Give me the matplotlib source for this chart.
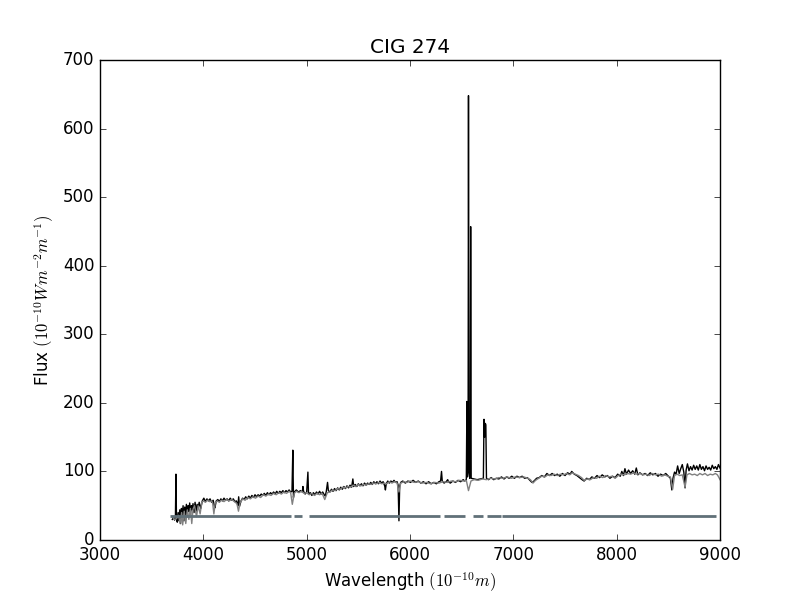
import numpy as np
import matplotlib
matplotlib.use("Agg")
import matplotlib.pyplot as plt

# observed spectrum (black)
obs_wl = [3700, 3712, 3722, 3730, 3735, 3740, 3748, 3756, 3764, 3772, 3780, 3788, 3796,
          3804, 3812, 3820, 3828, 3836, 3844, 3852, 3860, 3868, 3876, 3884, 3892, 3900,
          3910, 3920, 3930, 3940, 3950,
          3960, 3975, 3990, 4005, 4020, 4035, 4050, 4065, 4080, 4095, 4106, 4112, 4125,
          4140, 4155, 4170, 4185, 4200, 4215, 4230, 4245, 4260, 4275, 4290, 4305, 4320,
          4335, 4342, 4350, 4365, 4380, 4395, 4410, 4425, 4440, 4455, 4470, 4485, 4500,
          4515, 4530, 4545, 4560, 4575, 4590, 4605, 4620, 4635, 4650, 4665, 4680, 4695,
          4710, 4725, 4740, 4755, 4770, 4785, 4800, 4815, 4830, 4845, 4858, 4866, 4872,
          4880,
          4900, 4920, 4940, 4958, 4964, 4970, 4985, 5000, 5012, 5018, 5035, 5050, 5065,
          5080, 5095, 5110, 5125, 5140, 5155, 5170, 5180, 5190, 5202, 5210, 5225, 5240,
          5255, 5270, 5285, 5300, 5315, 5330, 5345, 5360, 5375, 5390, 5405, 5420, 5435,
          5447, 5455, 5470, 5485, 5500, 5515, 5530, 5545, 5560, 5575, 5590, 5605, 5620,
          5635, 5650, 5665, 5680, 5695, 5710, 5725, 5740, 5755, 5762, 5770, 5785, 5800,
          5815, 5830, 5845, 5860, 5875, 5885, 5893, 5900, 5910,
          5930, 5955, 5980, 6005, 6030, 6055, 6080, 6105, 6130, 6155, 6180, 6205, 6230,
          6255, 6280, 6296, 6305, 6312, 6330, 6350, 6365, 6372, 6390, 6415, 6440, 6465,
          6490, 6515, 6530, 6545,
          6551, 6556, 6562, 6566, 6571, 6578, 6583, 6587, 6592, 6620, 6650, 6680, 6710,
          6716, 6722, 6729, 6734,
          6740, 6760, 6785, 6810, 6835, 6860, 6885, 6910, 6935, 6960, 6985, 7010, 7035,
          7060, 7085, 7110, 7135, 7160, 7180, 7200, 7225, 7250, 7275, 7300, 7325, 7350,
          7375, 7400, 7425, 7450, 7475, 7500, 7525, 7550, 7565, 7590, 7615, 7640, 7665,
          7685, 7710, 7735, 7760, 7785, 7810, 7835, 7860, 7885, 7910, 7935, 7960, 7985,
          8010, 8035, 8050, 8065, 8080, 8095, 8115, 8135, 8155, 8175, 8190, 8205, 8225,
          8250, 8275, 8300, 8325, 8350, 8375, 8400, 8425, 8450, 8475, 8500, 8520, 8534,
          8545, 8560, 8575, 8590, 8605, 8620, 8635, 8650, 8662, 8672, 8685, 8700, 8715,
          8730, 8745, 8760, 8775, 8790, 8805, 8820, 8835, 8850, 8865, 8880, 8895, 8910,
          8925, 8940, 8955, 8970, 8985, 9000]
obs_flux = [30, 33, 29, 34, 96, 32, 26, 40, 28, 44, 24, 46, 32,
            50, 28, 48, 36, 52, 34, 50, 42, 54, 38, 50, 44, 53,
            40, 55, 42, 52, 47,
            55, 46, 57, 61, 56, 60, 57, 60, 55, 58, 50, 47, 57,
            59, 56, 60, 57, 61, 58, 60, 57, 61, 58, 60, 56, 57,
            50, 63, 49, 57, 61, 59, 63, 60, 64, 61, 65, 62, 66,
            63, 66, 64, 67, 65, 68, 65, 69, 66, 69, 67, 70, 67,
            71, 68, 71, 69, 72, 69, 72, 70, 73, 70, 71, 131, 62,
            70,
            73, 70, 72, 70, 78, 71, 67, 70, 99, 67, 69, 65, 69,
            66, 70, 67, 71, 67, 70, 66, 64, 71, 84, 72, 70, 74,
            71, 75, 72, 76, 73, 77, 74, 78, 75, 79, 76, 80, 77,
            89, 78, 81, 78, 82, 79, 82, 79, 83, 80, 83, 81, 84,
            81, 85, 82, 85, 82, 86, 83, 85, 79, 73, 82, 86, 83,
            86, 84, 87, 84, 85, 80, 28, 78, 84,
            86, 83, 86, 84, 87, 84, 86, 83, 85, 82, 85, 82, 84,
            82, 85, 86, 100, 86, 83, 85, 88, 85, 83, 86, 84, 87,
            85, 88, 86, 88,
            202, 92, 100, 648, 110, 90, 95, 457, 90, 89, 88, 89, 90,
            176, 150, 170, 168,
            90, 88, 91, 88, 90, 89, 92, 89, 92, 90, 93, 90, 93,
            91, 93, 90, 91, 87, 84, 86, 90, 91, 94, 92, 97, 94,
            97, 94, 96, 93, 97, 94, 98, 96, 100, 96, 94, 91, 88,
            86, 90, 88, 92, 90, 94, 91, 95, 92, 94, 90, 93, 91,
            96, 93, 100, 94, 104, 96, 102, 97, 101, 96, 105, 95, 98,
            95, 97, 94, 98, 95, 97, 93, 96, 94, 97, 93, 90, 73,
            90, 99, 96, 108, 97, 104, 110, 99, 76, 102, 111, 101, 107,
            102, 109, 103, 108, 102, 110, 103, 107, 101, 108, 103, 106, 102,
            109, 104, 107, 103, 110, 105]

# synthetic spectrum (grey)
mod_wl = [3700, 3720, 3740, 3760, 3775, 3790, 3800, 3815, 3830, 3845, 3860, 3875, 3888,
          3900, 3915, 3934, 3950, 3969, 3985, 4000, 4020, 4040, 4060, 4080, 4090, 4102,
          4115, 4135, 4155, 4175, 4200, 4225, 4250, 4275, 4300, 4325, 4340, 4355, 4380,
          4405, 4430, 4455, 4480, 4505, 4530, 4555, 4580, 4605, 4630, 4655, 4680, 4705,
          4730, 4755, 4780, 4805, 4830, 4845, 4861, 4880, 4900, 4925, 4950, 4975, 5000,
          5025, 5050, 5075, 5100, 5125, 5150, 5175, 5200, 5225, 5250, 5275, 5300, 5325,
          5350, 5375, 5400, 5425, 5450, 5475, 5500, 5525, 5550, 5575, 5600, 5625, 5650,
          5675, 5700, 5725, 5750, 5775, 5800, 5825, 5850, 5875, 5893, 5910, 5940, 5970,
          6000, 6040, 6080, 6120, 6160, 6200, 6240, 6280, 6320, 6360, 6400, 6440, 6480,
          6520, 6545, 6566, 6590, 6620, 6660, 6700, 6740, 6780, 6820, 6860, 6900, 6940,
          6980, 7020, 7060, 7100, 7140, 7165, 7190, 7215, 7245, 7275, 7305, 7335, 7365,
          7395, 7425, 7455, 7485, 7515, 7545, 7570, 7600, 7630, 7660, 7685, 7715, 7745,
          7775, 7805, 7835, 7865, 7895, 7925, 7955, 7985, 8015, 8045, 8075, 8105, 8135,
          8165, 8195, 8225, 8255, 8285, 8315, 8345, 8375, 8405, 8435, 8465, 8495, 8520,
          8542, 8560, 8585, 8610, 8635, 8662, 8680, 8705, 8730, 8755, 8780, 8805, 8830,
          8855, 8880, 8905, 8930, 8955, 8975, 8990, 9000]
mod_flux = [34, 30, 31, 36, 24, 40, 22, 42, 24, 44, 30, 46, 24,
            45, 50, 34, 50, 38, 55, 57, 55, 58, 56, 57, 54, 38,
            54, 57, 55, 58, 56, 59, 57, 59, 56, 53, 42, 54, 60,
            58, 62, 60, 63, 61, 64, 62, 66, 64, 67, 65, 68, 66,
            69, 67, 70, 68, 71, 69, 52, 68, 71, 69, 71, 68, 69,
            66, 68, 65, 68, 66, 68, 59, 69, 70, 73, 72, 75, 74,
            77, 76, 78, 77, 80, 78, 81, 79, 81, 80, 82, 81, 83,
            82, 84, 82, 83, 82, 85, 83, 85, 83, 70, 83, 85, 84,
            86, 84, 85, 83, 84, 82, 84, 83, 85, 84, 86, 85, 87,
            86, 87, 72, 86, 88, 87, 89, 88, 90, 89, 91, 90, 92,
            90, 92, 91, 92, 90, 88, 83, 87, 90, 93, 92, 95, 94,
            96, 94, 96, 95, 97, 95, 98, 96, 94, 91, 87, 89, 88,
            91, 90, 93, 91, 94, 92, 93, 90, 94, 96, 95, 97, 96,
            98, 96, 97, 95, 96, 94, 97, 95, 96, 93, 95, 93, 92,
            74, 94, 96, 94, 95, 77, 95, 97, 95, 96, 94, 97, 95,
            97, 94, 96, 95, 97, 95, 91, 88]

# masked regions: mask line drawn at flux 35 between these edges
mask_level = 35
mask_start = [3680, 4881, 5026, 6328, 6610, 6743, 6891]
mask_end = [4852, 4958, 6290, 6536, 6704, 6878, 8961]

plt.style.use("classic")
fig = plt.figure(figsize=(8, 6), dpi=100, facecolor="white")
ax = fig.add_subplot(111)

ax.plot(obs_wl, obs_flux, color="black", linewidth=1.0)
ax.plot(mod_wl, mod_flux, color="#808080", linewidth=1.0)
ax.hlines([mask_level] * len(mask_start), mask_start, mask_end,
          colors="#607078", linewidth=2)

ax.set_xlim(3000, 9000)
ax.set_ylim(0, 700)
ax.set_xlabel(r"Wavelength $(10^{-10} m)$")
ax.set_ylabel(r"Flux $(10^{-10} W m^{-2} m^{-1})$")
ax.set_title("CIG 274")

fig.savefig("out.png", dpi=100, facecolor="white")
